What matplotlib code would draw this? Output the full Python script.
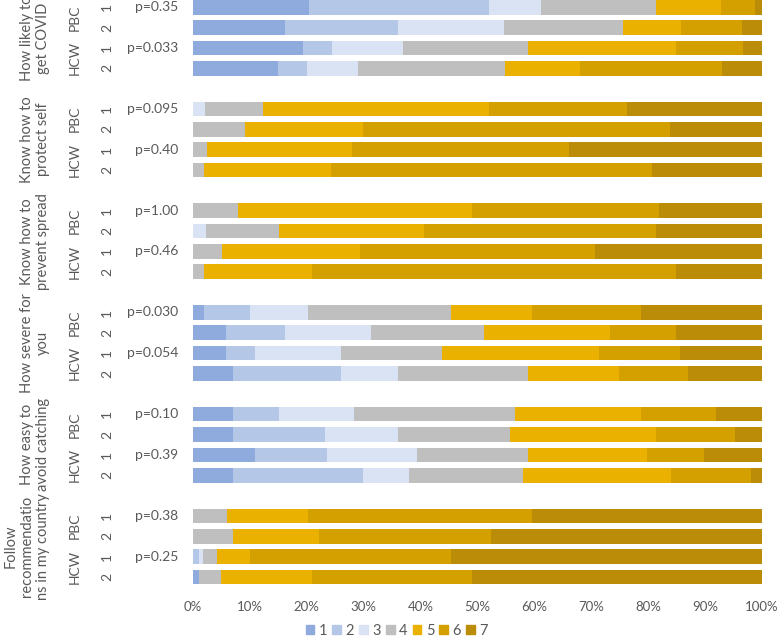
import numpy as np
import matplotlib.pyplot as plt
from matplotlib.patches import Patch

plt.rcParams['font.family'] = ['Lato', 'DejaVu Sans']

questions = ['How likely to\nget COVID', 'Know how to\nprotect self', 'Know how to\nprevent spread',
             'How severe for\nyou', 'How easy to\navoid catching', 'Follow\nrecommendatio\nns in my country']
groups = ['PBC', 'HCW']
rows = ['1', '2']
pvals = [['p=0.35', 'p=0.033'], ['p=0.095', 'p=0.40'], ['p=1.00', 'p=0.46'],
         ['p=0.030', 'p=0.054'], ['p=0.10', 'p=0.39'], ['p=0.38', 'p=0.25']]
levels = ['1', '2', '3', '4', '5', '6', '7']

# percent of answers 1..7, per bar (PBC1, PBC2, HCW1, HCW2 for each question)
likely_covid = [[20.4, 31.6, 9.2, 20.3, 11.3, 6.1, 1.1],
                [16.2, 19.8, 18.7, 20.9, 10.3, 10.6, 3.5],
                [19.3, 5.1, 12.5, 22.0, 26.0, 11.8, 3.3],
                [15.0, 5.0, 9.0, 25.9, 13.1, 25.0, 7.0]]
protect_self = [[0, 0, 2.1, 10.2, 39.7, 24.4, 23.6],
                [0, 0, 0, 9.2, 20.7, 53.9, 16.2],
                [0, 0, 0, 2.5, 25.4, 38.2, 33.9],
                [0, 0, 0, 1.9, 22.4, 56.5, 19.2]]
prevent_spread = [[0, 0, 0, 7.9, 41.1, 32.9, 18.1],
                  [0, 0, 2.3, 12.8, 25.5, 40.8, 18.6],
                  [0, 0, 0, 5.1, 24.3, 41.3, 29.3],
                  [0, 0, 0, 1.9, 19.0, 64.0, 15.1]]
severe = [[1.9, 8.1, 10.2, 25.1, 14.3, 19.1, 21.3],
          [5.8, 10.4, 15.1, 19.8, 22.2, 11.6, 15.1],
          [5.8, 5.1, 15.1, 17.8, 27.6, 14.2, 14.4],
          [7.0, 19.0, 10.0, 22.9, 16.0, 12.1, 13.0]]
avoid_catching = [[7.0, 8.1, 13.2, 28.3, 22.1, 13.2, 8.1],
                  [7.0, 16.2, 12.8, 19.7, 25.7, 13.9, 4.7],
                  [10.9, 12.7, 15.8, 19.5, 20.9, 10.0, 10.2],
                  [7.0, 22.9, 8.1, 20.0, 26.0, 14.1, 1.9]]
follow_recs = [[0, 0, 0, 6.0, 14.2, 39.4, 40.4],
               [0, 0, 0, 7.0, 15.1, 30.3, 47.6],
               [0, 1.0, 0.7, 2.5, 5.8, 35.3, 54.7],
               [1.0, 0, 0, 4.0, 15.9, 28.1, 51.0]]

all_data = [likely_covid, protect_self, prevent_spread, severe, avoid_catching, follow_recs]
colors = ['#8faadc', '#b4c7e7', '#dae3f3', '#bfbfbf', '#ebb100', '#d4a000', '#bb8c07']
txt = '#595959'

fig = plt.figure(figsize=(7.78, 6.43), dpi=100)
ax = fig.add_axes([0.248, 0.087, 0.731, 0.913])

ypos = []
vals = []
for g, q in enumerate(all_data):
    for r, bar in enumerate(q):
        ypos.append(g * 5 + r)
        vals.append(bar)
ypos = np.array(ypos)
vals = np.array(vals)
left = np.zeros(len(ypos))
for k in range(7):
    ax.barh(ypos, vals[:, k], left=left, height=0.72, color=colors[k], label=levels[k])
    left += vals[:, k]

ax.set_xlim(0, 100)
ax.set_ylim(28.5, -0.36)
ax.set_xticks(np.arange(0, 101, 10))
ax.set_xticklabels([f'{v}%' for v in range(0, 101, 10)], color=txt, fontsize=9.5)
ax.set_yticks([])
ax.tick_params(axis='x', length=0, pad=10)
for s in ax.spines.values():
    s.set_visible(False)

tr = ax.get_yaxis_transform()
for g in range(6):
    ax.text(-0.251, g * 5 + 1.5, questions[g], transform=tr, rotation=90, ha='right', va='center',
            color=txt, fontsize=10.5, linespacing=1.2, multialignment='center')
    for s in range(2):
        ax.text(-0.207, g * 5 + s * 2 + 0.5, groups[s], transform=tr, rotation=90, ha='center',
                va='center', color=txt, fontsize=10)
        ax.text(-0.026, g * 5 + s * 2, pvals[g][s], transform=tr, ha='right', va='center',
                color=txt, fontsize=10)
        for r in range(2):
            ax.text(-0.151, g * 5 + s * 2 + r, rows[r], transform=tr, rotation=90, ha='center',
                    va='center', color=txt, fontsize=10)

handles = [Patch(color=c, label=l) for c, l in zip(colors, levels)]
leg = fig.legend(handles=handles, loc='lower center', bbox_to_anchor=(0.51, -0.008), ncol=7,
                 frameon=False, handlelength=0.6, handleheight=0.6, handletextpad=0.3,
                 columnspacing=0.35, fontsize=10.5, borderpad=0.2)
for t in leg.get_texts():
    t.set_color(txt)

fig.savefig('out.png', dpi=100)
